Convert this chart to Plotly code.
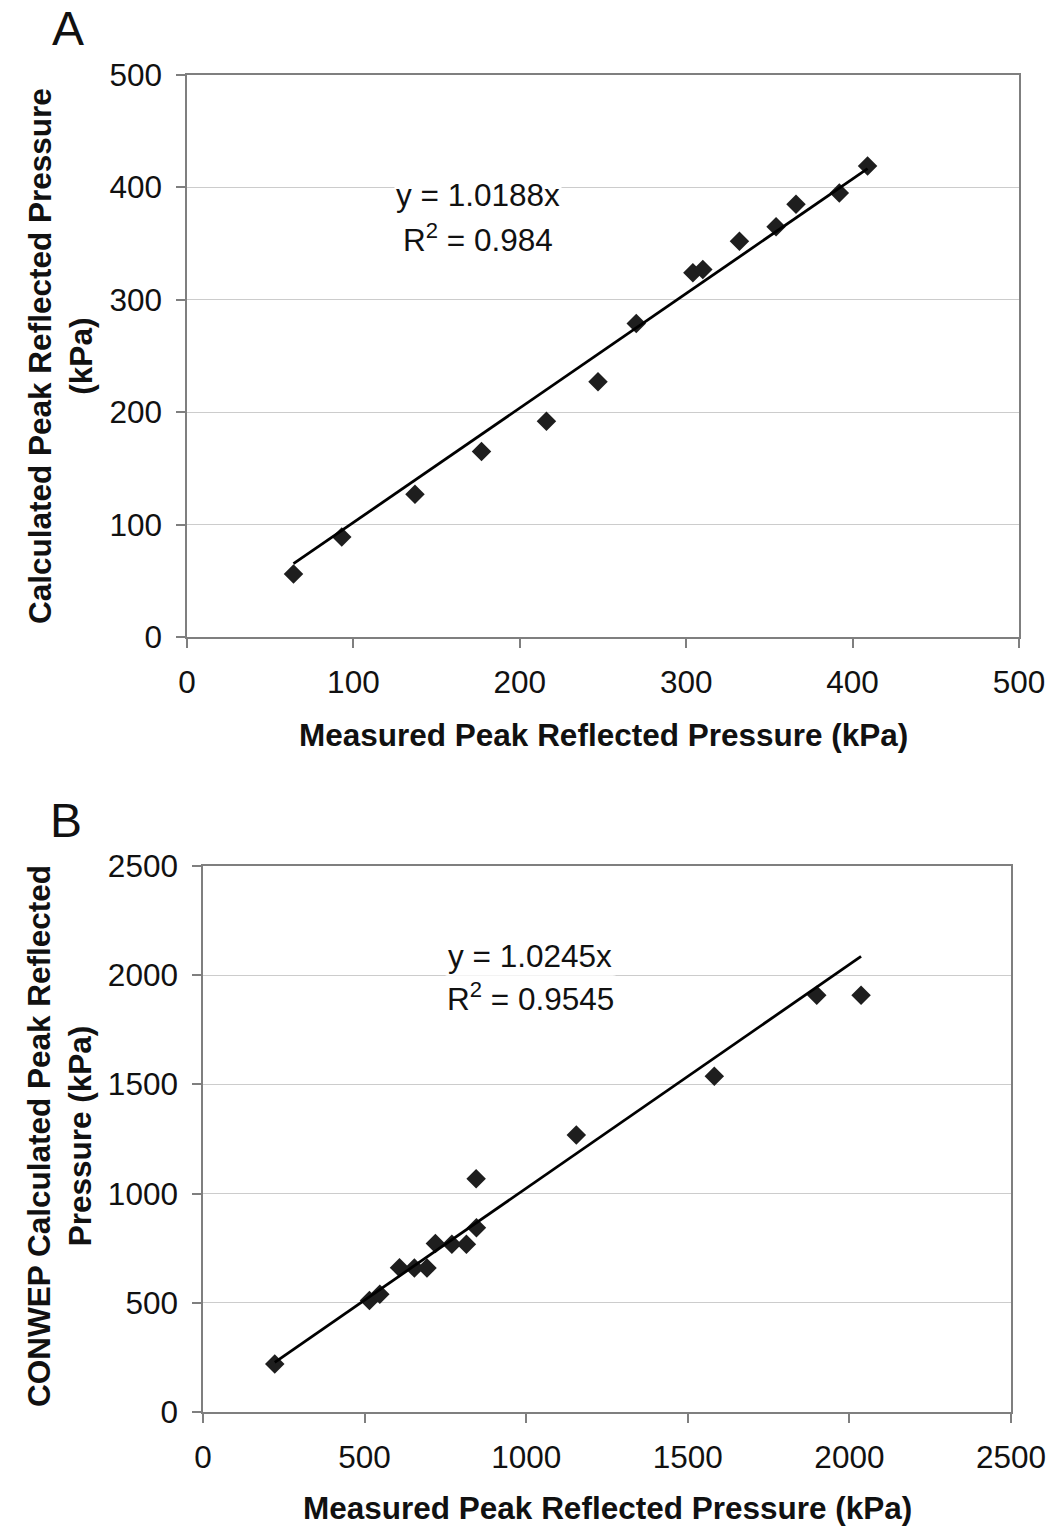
import plotly.graph_objects as go

# Panel A: measured vs calculated peak reflected pressure (kPa)
a_measured = [64, 93, 137, 177, 216, 247, 270, 304, 310, 332, 354, 366, 392, 409]
a_calculated = [56, 89, 127, 165, 192, 227, 279, 324, 327, 352, 365, 385, 395, 419]
a_slope = 1.0188
a_r2 = "0.984"

# Panel B: measured vs CONWEP calculated peak reflected pressure (kPa)
b_measured = [222, 515, 547, 608, 654, 693, 719, 770, 815, 846, 845, 1155, 1582, 1899, 2036]
b_calculated = [220, 510, 539, 661, 659, 659, 771, 768, 768, 844, 1068, 1268, 1537, 1908, 1908]
b_slope = 1.0245
b_r2 = "0.9545"

W, H = 1063, 1535
FONT = "Liberation Sans, Arial, sans-serif"
AXIS_GRAY = "#7f7f7f"
GRID_GRAY = "#cccccc"
TXT = "#111111"


def px(x):
    return x / W


def py(y):
    return 1 - y / H


fig = go.Figure()

# Scatter points
fig.add_trace(go.Scatter(x=a_measured, y=a_calculated, mode="markers",
                         marker=dict(symbol="diamond", size=15, color="#1e1e1e"),
                         xaxis="x", yaxis="y", showlegend=False))
fig.add_trace(go.Scatter(x=b_measured, y=b_calculated, mode="markers",
                         marker=dict(symbol="diamond", size=15, color="#1e1e1e"),
                         xaxis="x2", yaxis="y2", showlegend=False))

# Linear trend lines through origin (y = slope * x) over the data range
a_fit_x = [min(a_measured), max(a_measured)]
b_fit_x = [min(b_measured), max(b_measured)]
fig.add_trace(go.Scatter(x=a_fit_x, y=[a_slope * v for v in a_fit_x], mode="lines",
                         line=dict(color="black", width=2.8),
                         xaxis="x", yaxis="y", showlegend=False))
fig.add_trace(go.Scatter(x=b_fit_x, y=[b_slope * v for v in b_fit_x], mode="lines",
                         line=dict(color="black", width=2.8),
                         xaxis="x2", yaxis="y2", showlegend=False))


def axis_style(rng, dtick, domain, anchor, grid, standoff):
    return dict(range=rng, dtick=dtick, domain=domain, anchor=anchor,
                showline=True, linecolor=AXIS_GRAY, linewidth=1.5, mirror=True,
                ticks="outside", ticklen=9, tickcolor=AXIS_GRAY, tickwidth=1.5,
                showgrid=grid, gridcolor=GRID_GRAY, gridwidth=1.2,
                zeroline=False, ticklabelstandoff=standoff, automargin=False,
                tickfont=dict(family=FONT, size=31.5, color=TXT))


fig.update_layout(
    width=W, height=H,
    margin=dict(l=0, r=0, t=0, b=0),
    paper_bgcolor="white", plot_bgcolor="white",
    font=dict(family=FONT, color=TXT),
    xaxis=axis_style([0, 500], 100, [px(187), px(1019)], "y", False, 7),
    yaxis=axis_style([0, 500], 100, [py(637), py(75)], "x", True, 8),
    xaxis2=axis_style([0, 2500], 500, [px(203), px(1011)], "y2", False, 7),
    yaxis2=axis_style([0, 2500], 500, [py(1412), py(866)], "x2", True, 8),
)

bold = dict(family=FONT, size=31.5, color=TXT)
letter = dict(family=FONT, size=48, color=TXT)

# panel letters
fig.add_annotation(xref="paper", yref="paper", x=px(68), y=1, xanchor="center",
                   yanchor="top", text="A", showarrow=False, font=letter)
fig.add_annotation(xref="paper", yref="paper", x=px(66), y=py(820), xanchor="center",
                   yanchor="middle", text="B", showarrow=False, font=letter)

# axis titles
titles = [
    dict(text="<b>Measured Peak Reflected Pressure (kPa)</b>", x=px(603), y=py(735)),
    dict(text="<b>Measured Peak Reflected Pressure (kPa)</b>", x=px(607), y=py(1508)),
    dict(text="<b>Calculated Peak Reflected Pressure<br>(kPa)</b>", x=px(60), y=py(356),
         textangle=-90),
    dict(text="<b>CONWEP Calculated Peak Reflected<br>Pressure (kPa)</b>", x=px(59), y=py(1136),
         textangle=-90),
]
for t in titles:
    fig.add_annotation(xref="paper", yref="paper", showarrow=False, font=bold,
                       xanchor="center", yanchor="middle", **t)

# Trend line equations
eq_font = dict(family=FONT, size=31.5, color=TXT)
fig.add_annotation(xref="x", yref="y", x=175, y=393, text=f"y = {a_slope}x",
                   showarrow=False, font=eq_font, bgcolor="white")
fig.add_annotation(xref="x", yref="y", x=175, y=355, text=f"R<sup>2</sup> = {a_r2}",
                   showarrow=False, font=eq_font, bgcolor="white")
fig.add_annotation(xref="x2", yref="y2", x=1012, y=2090, text=f"y = {b_slope}x",
                   showarrow=False, font=eq_font, bgcolor="white")
fig.add_annotation(xref="x2", yref="y2", x=1012, y=1898, text=f"R<sup>2</sup> = {b_r2}",
                   showarrow=False, font=eq_font, bgcolor="white")

# drop the default page margin so the figure sits at the window's top-left corner
fig.write_html("out.html", config={"displayModeBar": False},
               post_script="document.body.style.margin='0px';")
